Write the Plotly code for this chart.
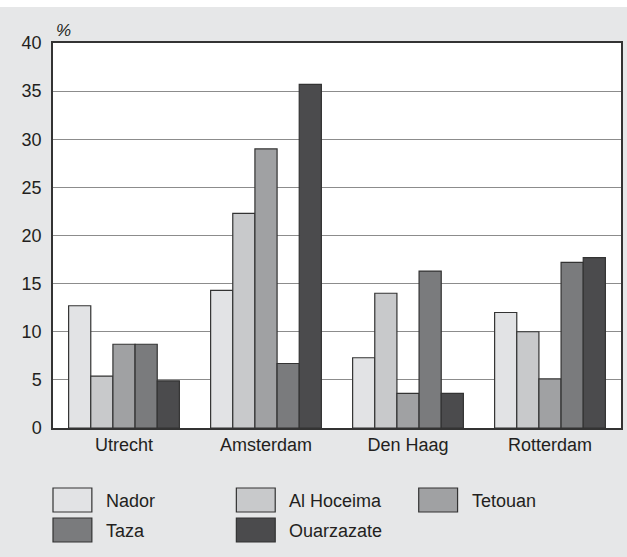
import plotly.graph_objects as go

cities = ["Utrecht", "Amsterdam", "Den Haag", "Rotterdam"]
series_names = ["Nador", "Al Hoceima", "Tetouan", "Taza", "Ouarzazate"]
nador = [12.7, 14.3, 7.3, 12.0]
al_hoceima = [5.4, 22.3, 14.0, 10.0]
tetouan = [8.7, 29.0, 3.6, 5.1]
taza = [8.7, 6.7, 16.3, 17.2]
ouarzazate = [4.9, 35.7, 3.6, 17.7]
series_values = [nador, al_hoceima, tetouan, taza, ouarzazate]
y_ticks = [0, 5, 10, 15, 20, 25, 30, 35, 40]

colors = ["#e2e3e5", "#c8c9cb", "#a0a1a3", "#7a7b7d", "#4b4b4d"]
outline = "#333333"
text_color = "#231f20"
font_family = "Arial"

W, H = 627, 557
L, R, T, B = 53, 4, 43, 129
pw = W - L - R
ph = H - T - B


def px(x):
    return (x - L) / pw


def py(y):
    return (H - B - y) / ph


fig = go.Figure()
for name, vals, col in zip(series_names, series_values, colors):
    fig.add_trace(go.Bar(
        x=cities, y=vals, name=name,
        marker=dict(color=col, line=dict(color=outline, width=1.2)),
        showlegend=False,
    ))

shapes = []
annotations = []

# white strip at top
shapes.append(dict(type="rect", xref="paper", yref="paper",
                   x0=px(-2), x1=px(W + 2), y0=py(7), y1=py(-2),
                   fillcolor="white", line=dict(width=0), layer="below"))

# custom legend
legend_pos = [(53, 488), (237, 488), (420, 488), (53, 518), (237, 518)]
for (x0, y0), name, col in zip(legend_pos, series_names, colors):
    shapes.append(dict(type="rect", xref="paper", yref="paper",
                       x0=px(x0), x1=px(x0 + 39), y0=py(y0 + 24), y1=py(y0),
                       fillcolor=col, line=dict(color=outline, width=1.2)))
    annotations.append(dict(xref="paper", yref="paper", x=px(x0 + 51), y=py(y0 + 13),
                            text=name, showarrow=False, xanchor="left", yanchor="middle",
                            font=dict(size=18, color=text_color, family=font_family)))

annotations.append(dict(xref="paper", yref="paper", x=px(54), y=py(31),
                        text="<i>%</i>", showarrow=False, xanchor="left", yanchor="middle",
                        font=dict(size=17, color=text_color, family=font_family)))

fig.update_layout(
    width=W, height=H,
    margin=dict(l=L, r=R, t=T, b=B, pad=0),
    paper_bgcolor="#e6e7e8",
    plot_bgcolor="white",
    barmode="group",
    bargap=0.22,
    bargroupgap=0,
    font=dict(family=font_family, size=18, color=text_color),
    shapes=shapes,
    annotations=annotations,
    showlegend=False,
)
fig.update_xaxes(
    showline=True, linecolor=outline, linewidth=1.5, mirror=True,
    showgrid=False, ticks="", tickfont=dict(size=18, color=text_color),
)
fig.update_yaxes(
    range=[0, 40], tickvals=y_ticks, showline=True, linecolor=outline,
    linewidth=1.5, mirror=True, showgrid=True, gridcolor="#8c8c8c", gridwidth=1.3,
    zeroline=False, ticks="outside", ticklen=6, tickcolor="rgba(0,0,0,0)",
    tickfont=dict(size=18, color=text_color),
)

fig.write_html(
    "out.html",
    config={"displayModeBar": False},
    post_script="document.body.style.margin='0';",
)
